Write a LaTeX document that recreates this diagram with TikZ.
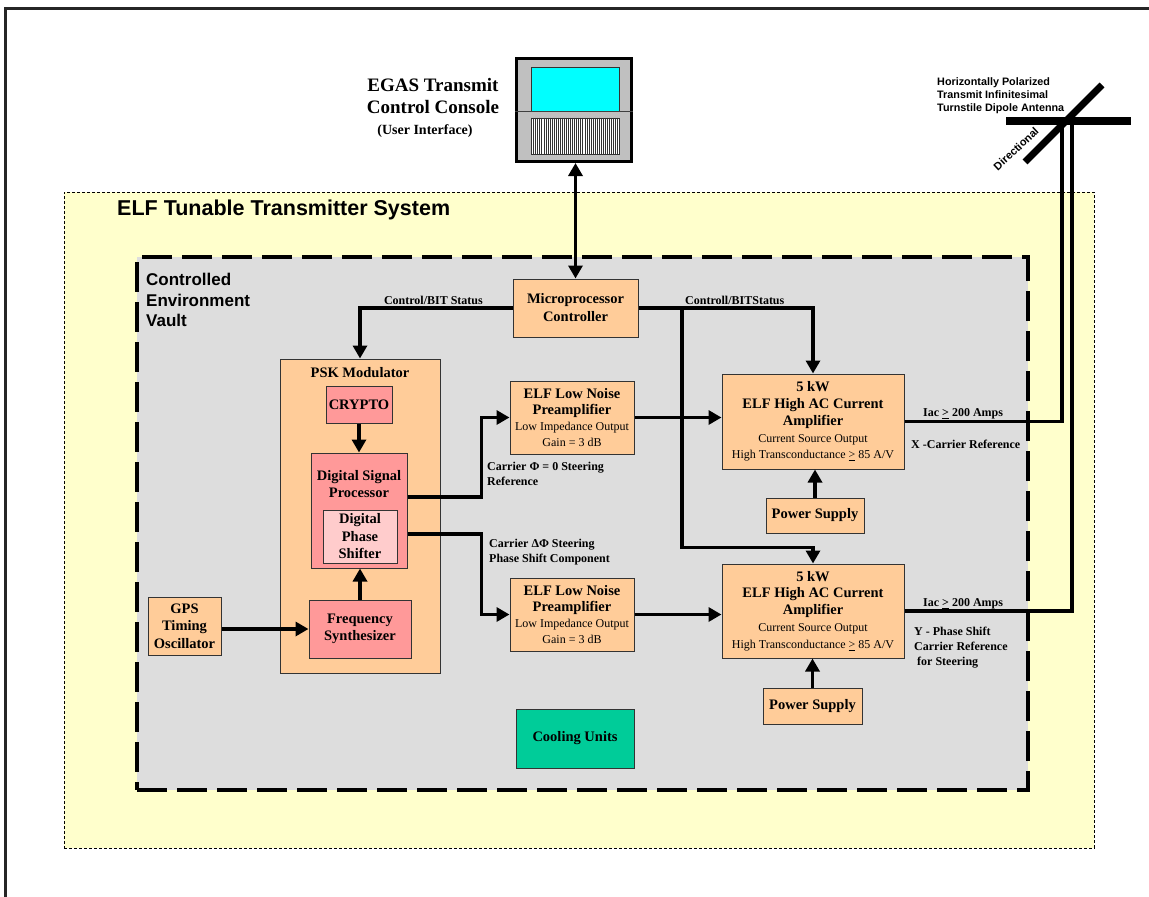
\documentclass[tikz,border=0pt]{standalone}
\usepackage{fontspec}
\setmainfont{Liberation Serif}
\newfontfamily\arialfam{Liberation Sans}
\usetikzlibrary{arrows.meta,calc}
\newcommand\fsz[2]{\fontsize{#1pt}{#2pt}\selectfont}
\newcommand\bline[1]{{\bfseries\fsz{14.5}{17}#1}}
\definecolor{sysyellow}{HTML}{FFFFCC}
\definecolor{vaultgray}{HTML}{DDDDDD}
\definecolor{peach}{HTML}{FFCC99}
\definecolor{pinkbox}{HTML}{FF9999}
\definecolor{lightpink}{HTML}{FFCCCC}
\definecolor{coolgreen}{HTML}{00CC99}
\definecolor{screencyan}{HTML}{00FFFF}
\definecolor{consolegray}{HTML}{C0C0C0}
\definecolor{boxline}{HTML}{333333}
\tikzset{
 blk/.style={draw=boxline, line width=1pt, inner sep=0pt, align=center, text=black},
 peachbox/.style={blk, fill=peach},
 pinkb/.style={blk, fill=pinkbox},
 bigb/.style={font=\bfseries\fsz{14.5}{17}},
 conn/.style={line width=3.3pt},
 arr/.style={conn, -{Triangle[length=13pt,width=14pt]}},
 darr/.style={conn, {Triangle[length=13pt,width=14pt]}-{Triangle[length=13pt,width=14pt]}},
 lbl/.style={font=\bfseries\fsz{12}{15}, align=left, inner sep=0pt, text=black},
 sanslbl/.style={font=\arialfam\bfseries, align=left, inner sep=0pt, text=black},
}
\begin{document}
\begin{tikzpicture}[x=1pt,y=-1pt]
\useasboundingbox (0,0) rectangle (1149,897);
\fill[white] (0,0) rectangle (1149,897);
\draw[line width=3pt, black!85] (5,897) -- (5,8) -- (1149,8);

% system and vault
\node[draw=black, fill=sysyellow, line width=0.8pt, dash pattern=on 3pt off 2pt, minimum width=1030pt, minimum height=656pt, inner sep=0] (sys) at (579,520) {};
\node[sanslbl, font=\arialfam\bfseries\fsz{21.5}{25}, anchor=west] (systitle) at (117,210) {ELF Tunable Transmitter System};
\node[draw=black, fill=vaultgray, line width=4pt, dash pattern=on 30pt off 10pt, minimum width=891pt, minimum height=533pt, inner sep=0] (vault) at (582.5,523.5) {};
\node[sanslbl, font=\arialfam\bfseries\fsz{17}{20.5}, anchor=west] (vaulttitle) at (146,300) {Controlled\\Environment\\Vault};

% console
\node[draw=black, line width=3pt, fill=consolegray, minimum width=115pt, minimum height=103pt, inner sep=0] (console) at (574,110) {};
\node[draw=boxline, line width=0.8pt, fill=screencyan, minimum width=88pt, minimum height=44pt, inner sep=0] (scr) at (575,89) {};
\draw[line width=0.8pt, gray!50!black] (console.west |- 0,111) -- (console.east |- 0,111);
\node[draw=boxline, line width=0.8pt, fill=white, minimum width=88pt, minimum height=36pt, inner sep=0] (kbd) at (575,136) {};
\foreach \i in {0,...,42} \draw[line width=0.35pt, black!80] ($(kbd.north west)+(2.05*\i+0.8,0)$) -- ($(kbd.south west)+(2.05*\i+0.8,0)$);
\node[font=\bfseries\fsz{19}{22}, align=center, inner sep=0] (constitle) at (433,96) {EGAS Transmit\\Control Console};
\node[font=\bfseries\fsz{14}{16}, inner sep=0] (consub) at (425,131) {(User Interface)};

% blocks
\node[peachbox, bigb, minimum width=125pt, minimum height=58pt, font=\bfseries\fsz{14.5}{18}] (micro) at (575.5,308) {Microprocessor\\Controller};
\node[peachbox, minimum width=160pt, minimum height=314pt] (psk) at (360,516) {};
\node[bigb, inner sep=0] (psktitle) at (360,373) {PSK Modulator};
\node[pinkb, bigb, minimum width=66pt, minimum height=37pt] (crypto) at (359,404.5) {CRYPTO};
\node[pinkb, minimum width=96pt, minimum height=115pt] (dsp) at (359,510.5) {};
\node[bigb, align=center, inner sep=0] (dsptitle) at (359,484.5) {Digital Signal\\Processor};
\node[blk, fill=lightpink, minimum width=74pt, minimum height=53pt, font=\bfseries\fsz{14.5}{17.5}] (dps) at (360,536.5) {Digital\\Phase\\Shifter};
\node[pinkb, minimum width=102pt, minimum height=58pt, font=\bfseries\fsz{14.5}{16.5}] (fsyn) at (360,629) {Frequency\\Synthesizer};
\node[peachbox, minimum width=73pt, minimum height=58pt, font=\bfseries\fsz{14.5}{17.5}] (gps) at (184.5,626) {GPS\\Timing\\Oscillator};
\node[peachbox, minimum width=124pt, minimum height=73pt, font=\fsz{12}{15.7}] (pre1) at (572,417.5) {\bline{ELF Low Noise}\\\bline{Preamplifier}\\Low Impedance Output\\Gain = 3 dB};
\node[peachbox, minimum width=124pt, minimum height=73pt, font=\fsz{12}{15.7}] (pre2) at (572,614.5) {\bline{ELF Low Noise}\\\bline{Preamplifier}\\Low Impedance Output\\Gain = 3 dB};
\node[peachbox, minimum width=182pt, minimum height=95pt, font=\fsz{12}{16.8}] (amp1) at (813,421.5) {\bline{5 kW}\\\bline{ELF High AC Current}\\\bline{Amplifier}\\Current Source Output\\High Transconductance \underline{>} 85 A/V};
\node[peachbox, minimum width=182pt, minimum height=94pt, font=\fsz{12}{16.8}] (amp2) at (813,611) {\bline{5 kW}\\\bline{ELF High AC Current}\\\bline{Amplifier}\\Current Source Output\\High Transconductance \underline{>} 85 A/V};
\node[peachbox, bigb, minimum width=98pt, minimum height=35pt] (ps1) at (815,515.5) {Power Supply};
\node[peachbox, bigb, minimum width=99pt, minimum height=36pt] (ps2) at (812.5,706) {Power Supply};
\node[blk, fill=coolgreen, bigb, minimum width=118pt, minimum height=59pt] (cool) at (575,738.5) {Cooling Units};

% antenna
\coordinate (antL) at (1062,121);
\coordinate (antR) at (1072,121);
\coordinate (barW) at (1006,121);
\coordinate (barE) at (1131,121);
\coordinate (diagA) at (1025,162);
\coordinate (diagB) at (1102,85);
\draw[line width=8pt] (barW) -- (barE);
\draw[line width=7pt] (diagA) -- (diagB);
\node[sanslbl, font=\arialfam\bfseries\fsz{10.8}{13}, anchor=west] (antlbl) at (937,96) {Horizontally Polarized\\Transmit Infinitesimal\\Turnstile Dipole Antenna};
\node[sanslbl, font=\arialfam\bfseries\fsz{11}{13}, rotate=43] (dirlbl) at (1016,149) {Directional};

% connectors
\draw[darr] (micro.north) -- (micro.north |- console.south);
\draw[arr] (micro.west) -| (psk.north);
\draw[arr] (micro.east) -| (amp1.north);
\coordinate (br) at (682,308);
\draw[arr] (br) |- ($(amp2.north)+(0,-16)$) -- (amp2.north);
\draw[arr] (crypto.south) -- (dsp.north);
\draw[arr] (fsyn.north) -- (fsyn.north |- dsp.south);
\draw[arr] (gps.east |- fsyn.west) -- (fsyn.west);
\draw[arr] ([yshift=13.5pt]dsp.east) -| ($(pre1.west)+(-28,0)$) -- (pre1.west);
\draw[arr] ([yshift=-23.5pt]dsp.east) -| ($(pre2.west)+(-28,0)$) -- (pre2.west);
\draw[arr] (pre1.east) -- (pre1.east -| amp1.west);
\draw[arr] (pre2.east) -- (pre2.east -| amp2.west);
\draw[arr] (ps1.north) -- (ps1.north |- amp1.south);
\draw[arr] (ps2.north) -- (ps2.north |- amp2.south);
\draw[conn] (amp1.east) -| (antL);
\draw[conn] (amp2.east) -| (antR);

% labels
\node[lbl, anchor=east] (l1) at (483,300) {Control/BIT Status};
\node[lbl, anchor=west] (l2) at (685,300) {Controll/BITStatus};
\node[lbl, anchor=west] (l3) at (487,473.5) {Carrier Φ = 0 Steering\\Reference};
\node[lbl, anchor=west] (l4) at (489,552.5) {Carrier ΔΦ Steering\\Phase Shift Component};
\node[lbl, anchor=west] (l5) at (923,414) {Iac \underline{>} 200 Amps};
\node[lbl, anchor=west] (l6) at (911,444) {X -Carrier Reference};
\node[lbl, anchor=west] (l7) at (923,604) {Iac \underline{>} 200 Amps};
\node[lbl, anchor=west] (l8) at (914,648) {Y - Phase Shift\\Carrier Reference\\\hspace{3pt}for Steering};
\end{tikzpicture}
\end{document}
